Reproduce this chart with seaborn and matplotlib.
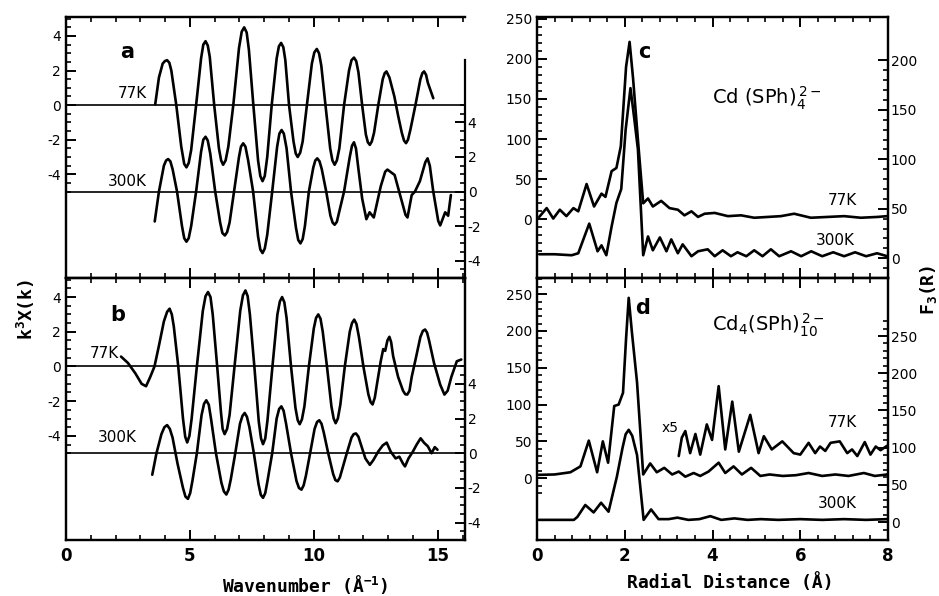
import numpy as np
import matplotlib
matplotlib.use("Agg")
import matplotlib.pyplot as plt
import seaborn as sns
from matplotlib.ticker import FixedLocator, NullFormatter

# ---- panel a : Cd(SPh)4 EXAFS (77K left axis, 300K right axis) ----
a77_k = [3.60, 3.75, 3.90, 3.99, 4.08, 4.17, 4.25, 4.45, 4.65, 4.77, 4.86, 4.95, 5.05, 5.25,
         5.45, 5.54, 5.63, 5.72, 5.80, 5.98, 6.17, 6.26, 6.34, 6.44, 6.55, 6.75, 6.98, 7.09,
         7.19, 7.29, 7.38, 7.56, 7.75, 7.84, 7.93, 8.02, 8.12, 8.30, 8.50, 8.59, 8.68, 8.77,
         8.85, 9.00, 9.18, 9.27, 9.35, 9.45, 9.55, 9.72, 9.92, 10.02, 10.12, 10.21, 10.30,
         10.47, 10.66, 10.75, 10.84, 10.93, 11.03, 11.22, 11.42, 11.52, 11.62, 11.71, 11.80,
         11.95, 12.10, 12.18, 12.26, 12.34, 12.43, 12.60, 12.78, 12.86, 12.93, 13.05, 13.25,
         13.40, 13.55, 13.64, 13.72, 13.80, 13.90, 14.10, 14.30, 14.38, 14.45, 14.53, 14.60,
         14.82]
a77_chi = [0.05, 1.6, 2.4, 2.55, 2.6, 2.45, 2.0, 0.0, -2.4, -3.4, -3.6, -3.35, -2.6, 0.0,
           2.7, 3.5, 3.7, 3.45, 2.8, 0.0, -2.5, -3.2, -3.45, -3.2, -2.4, 0.0, 3.3, 4.25,
           4.5, 4.2, 3.2, 0.0, -3.2, -4.1, -4.4, -4.1, -3.0, 0.0, 2.7, 3.4, 3.6, 3.35,
           2.6, 0.0, -2.1, -2.8, -3.0, -2.75, -2.1, 0.0, 2.4, 3.05, 3.25, 3.0, 2.3,
           0.0, -2.5, -3.2, -3.45, -3.2, -2.5, 0.0, 2.0, 2.6, 2.75, 2.55, 1.9,
           0.0, -1.7, -2.15, -2.3, -2.1, -1.6, 0.0, 1.5, 1.85, 1.95, 1.6, 0.5,
           -0.6, -1.6, -2.05, -2.2, -2.0, -1.4, 0.0, 1.5, 1.85, 1.95, 1.75, 1.3,
           0.4]

a300_k = [3.58, 3.75, 3.95, 4.04, 4.12, 4.21, 4.30, 4.48, 4.68, 4.77, 4.86, 4.95, 5.05, 5.25,
          5.45, 5.54, 5.63, 5.72, 5.82, 6.02, 6.22, 6.31, 6.41, 6.50, 6.60, 6.78, 6.98, 7.06,
          7.15, 7.24, 7.35, 7.55, 7.75, 7.84, 7.93, 8.02, 8.12, 8.32, 8.52, 8.61, 8.70, 8.79,
          8.90, 9.08, 9.28, 9.37, 9.46, 9.55, 9.64, 9.80, 9.98, 10.06, 10.14, 10.23, 10.32,
          10.50, 10.67, 10.76, 10.84, 10.93, 11.02, 11.22, 11.45, 11.54, 11.62, 11.70, 11.80,
          11.95, 12.12, 12.25, 12.42, 12.70, 12.88, 12.97, 13.26, 13.50, 13.70, 13.78, 13.95,
          14.08, 14.28, 14.50, 14.59, 14.68, 14.82, 15.02, 15.10, 15.30, 15.42, 15.53]
a300_chi = [-1.73, 0.0, 1.5, 1.8, 1.88, 1.75, 1.3, 0.0, -2.0, -2.7, -2.9, -2.7, -2.0, 0.0,
            2.3, 3.0, 3.17, 2.95, 2.2, 0.0, -1.8, -2.4, -2.54, -2.35, -1.8, 0.0, 2.0, 2.6,
            2.79, 2.6, 1.8, 0.0, -2.6, -3.35, -3.56, -3.3, -2.5, 0.0, 2.6, 3.35, 3.56, 3.35,
            2.5, 0.0, -2.1, -2.8, -3.0, -2.75, -2.0, 0.0, 1.4, 1.8, 1.92, 1.75, 1.3,
            0.0, -1.4, -1.8, -1.92, -1.75, -1.2, 0.0, 2.0, 2.65, 2.85, 2.5, 1.3,
            -0.4, -1.6, -1.2, -1.5, 0.3, 1.15, 1.27, 0.96, -0.3, -1.35, -1.5, -0.2,
            0.0, 0.6, 1.7, 1.92, 1.5, 0.0, -1.7, -1.96, -1.2, -1.4, -0.2]

# ---- panel b : Cd4(SPh)10 EXAFS ----
b77_k = [2.22, 2.50, 2.80, 3.05, 3.23, 3.40, 3.57, 3.75, 3.95, 4.08, 4.18, 4.27, 4.35, 4.53,
         4.72, 4.81, 4.89, 4.98, 5.07, 5.28, 5.52, 5.63, 5.73, 5.83, 5.92, 6.10, 6.25, 6.32,
         6.40, 6.50, 6.60, 6.80, 7.03, 7.14, 7.24, 7.33, 7.42, 7.60, 7.78, 7.87, 7.95, 8.04,
         8.13, 8.33, 8.53, 8.63, 8.72, 8.81, 8.90, 9.08, 9.26, 9.35, 9.43, 9.52, 9.62, 9.80,
         10.00, 10.09, 10.18, 10.27, 10.36, 10.53, 10.71, 10.80, 10.88, 10.97, 11.07, 11.25,
         11.45, 11.54, 11.63, 11.72, 11.82, 12.00, 12.20, 12.29, 12.37, 12.46, 12.55, 12.70,
         12.80, 12.88, 12.97, 13.05, 13.12, 13.20, 13.40, 13.60, 13.69, 13.77, 13.86, 13.95,
         14.12, 14.30, 14.40, 14.49, 14.57, 14.65, 14.85, 15.10, 15.27, 15.40, 15.55, 15.77,
         15.95]
b77_chi = [0.57, 0.2, -0.4, -1.0, -1.14, -0.6, 0.0, 1.2, 2.6, 3.15, 3.33, 3.0, 2.3, 0.0,
           -3.0, -4.05, -4.38, -4.0, -3.0, 0.0, 3.2, 4.05, 4.29, 4.0, 3.0, 0.0, -2.6, -3.6,
           -3.9, -3.6, -2.8, 0.0, 3.2, 4.1, 4.38, 4.05, 3.0, 0.0, -3.2, -4.15, -4.48, -4.15,
           -3.1, 0.0, 3.0, 3.75, 4.0, 3.7, 2.8, 0.0, -2.4, -3.1, -3.33, -3.05, -2.3, 0.0,
           2.2, 2.8, 3.0, 2.75, 2.0, 0.0, -2.3, -3.0, -3.27, -3.0, -2.2, 0.0,
           2.0, 2.5, 2.7, 2.45, 1.7, 0.0, -1.6, -2.05, -2.19, -1.8, -1.0, 0.3,
           1.0, 0.9, 1.5, 1.71, 1.4, 0.6, -0.6, -1.4, -1.6, -1.62, -1.4, -0.6,
           0.5, 1.7, 2.05, 2.13, 1.95, 1.5, 0.2, -1.05, -1.62, -1.4, -0.6, 0.3,
           0.4]

b300_k = [3.48, 3.65, 3.85, 3.97, 4.08, 4.19, 4.30, 4.50, 4.72, 4.82, 4.92, 5.01, 5.10, 5.28,
          5.47, 5.57, 5.66, 5.76, 5.85, 6.05, 6.27, 6.37, 6.47, 6.56, 6.65, 6.83, 7.02, 7.12,
          7.21, 7.30, 7.40, 7.58, 7.77, 7.86, 7.95, 8.04, 8.13, 8.32, 8.50, 8.60, 8.69, 8.78,
          8.88, 9.08, 9.30, 9.40, 9.50, 9.59, 9.68, 9.85, 10.03, 10.13, 10.22, 10.31, 10.40,
          10.58, 10.78, 10.87, 10.96, 11.05, 11.15, 11.33, 11.52, 11.61, 11.70, 11.80, 11.90,
          12.08, 12.26, 12.40, 12.60, 12.78, 12.94, 13.10, 13.30, 13.45, 13.60, 13.68, 13.82,
          14.00, 14.15, 14.31, 14.45, 14.60, 14.75, 14.88, 14.99]
b300_chi = [-1.24, 0.0, 1.1, 1.5, 1.62, 1.4, 0.9, -0.6, -2.0, -2.5, -2.63, -2.3, -1.6, 0.0,
            2.2, 2.85, 3.05, 2.8, 2.0, 0.0, -1.7, -2.2, -2.38, -2.1, -1.5, 0.0, 1.7, 2.15,
            2.32, 2.1, 1.5, 0.0, -1.8, -2.4, -2.57, -2.3, -1.6, 0.0, 2.0, 2.55, 2.7, 2.45,
            1.7, 0.0, -1.6, -2.0, -2.1, -1.85, -1.3, 0.0, 1.4, 1.8, 1.9, 1.7, 1.2,
            0.0, -1.2, -1.55, -1.62, -1.4, -0.9, 0.0, 0.9, 1.1, 1.14, 0.95, 0.5,
            -0.3, -0.67, -0.4, 0.1, 0.45, 0.61, 0.1, -0.3, -0.2, -0.6, -0.76, -0.3,
            0.1, 0.5, 0.86, 0.6, 0.4, 0.0, 0.35, 0.2]

# ---- panel c : Fourier transforms, Cd(SPh)4 ----
c77_r = [0.05, 0.22, 0.37, 0.52, 0.67, 0.83, 0.94, 1.13, 1.30, 1.47, 1.56, 1.70, 1.81, 1.91,
         2.03, 2.11, 2.19, 2.30, 2.42, 2.53, 2.64, 2.83, 3.02, 3.21, 3.36, 3.52, 3.67, 3.82,
         4.05, 4.35, 4.65, 4.95, 5.26, 5.56, 5.86, 6.24, 6.62, 7.00, 7.38, 7.76, 7.98]
c77_f = [3, 14, 1, 12, 4, 14, 10, 44, 16, 32, 28, 60, 64, 91,
         190, 221, 175, 99, 20, 26, 16, 23, 14, 12, 5, 10, 3, 7,
         8, 4, 5, 2, 3, 4, 7, 2, 3, 4, 2, 3, 4]

c300_r = [0.05, 0.40, 0.79, 0.94, 1.19, 1.38, 1.47, 1.58, 1.70, 1.81, 1.92, 2.02, 2.13, 2.22,
          2.30, 2.42, 2.53, 2.64, 2.80, 2.95, 3.06, 3.21, 3.32, 3.52, 3.67, 3.89, 4.05, 4.23,
          4.42, 4.57, 4.77, 4.95, 5.14, 5.33, 5.52, 5.79, 6.02, 6.25, 6.50, 6.75, 7.00, 7.25,
          7.50, 7.75, 7.98]
c300_f = [4, 4, 3, 5, 35, 7, 13, 3, 32, 56, 70, 130, 172, 140,
          110, 3, 22, 8, 21, 7, 19, 5, 14, 2, 7, 9, 2, 8,
          2, 6, 2, 8, 2, 9, 2, 7, 2, 7, 2, 6, 2, 6,
          2, 5, 2]

# ---- panel d : Fourier transforms, Cd4(SPh)10 ----
d77_r = [0.04, 0.40, 0.76, 0.99, 1.18, 1.37, 1.50, 1.62, 1.76, 1.86, 1.96, 2.03, 2.09, 2.16,
         2.28, 2.42, 2.58, 2.73, 2.90, 3.08, 3.23, 3.38, 3.57, 3.72, 3.91, 4.14, 4.29, 4.48,
         4.67, 4.88, 5.09, 5.30, 5.60, 5.90, 6.19, 6.50, 6.80, 7.10, 7.45, 7.70, 7.98]
d77_f = [4.5, 5, 8, 16, 51, 8, 50, 21, 98, 100, 116, 190, 245, 200,
         130, 5, 20, 8, 14, 5, 9, 2, 7, 3, 9, 21, 7, 16,
         5, 14, 3, 5, 3, 4, 7, 3, 5, 3, 7, 3, 5]

d77x5_r = [3.23, 3.30, 3.38, 3.49, 3.61, 3.72, 3.87, 3.99, 4.14, 4.29, 4.45, 4.60, 4.86, 5.05,
           5.17, 5.35, 5.59, 5.85, 6.00, 6.19, 6.34, 6.45, 6.57, 6.69, 6.90, 7.07, 7.18, 7.30,
           7.47, 7.60, 7.72, 7.83, 7.98]
d77x5_f = [30, 55, 64, 34, 60, 32, 73, 52, 125, 39, 104, 36, 86, 34,
           57, 39, 50, 34, 32, 48, 34, 43, 37, 48, 50, 34, 39, 30,
           49, 32, 43, 38, 44]

d300_r = [0.04, 0.84, 0.92, 1.10, 1.29, 1.46, 1.63, 1.82, 1.95, 2.02, 2.09, 2.17, 2.28, 2.43,
          2.60, 2.77, 3.00, 3.20, 3.45, 3.70, 3.95, 4.20, 4.50, 4.80, 5.10, 5.50, 6.00, 6.50,
          7.00, 7.50, 7.98]
d300_f = [3, 3, 7, 23, 13, 26, 14, 61, 100, 118, 124, 116, 90, 3,
          17, 4, 4, 6, 3, 4, 8, 3, 5, 3, 4, 3, 4, 3,
          4, 3, 4]

sns.set_style("ticks")
plt.rcParams["font.family"] = ["DejaVu Sans"]
plt.rcParams["axes.unicode_minus"] = False
plt.rcParams["mathtext.default"] = "regular"
plt.rcParams["text.color"] = "black"
plt.rcParams["axes.labelcolor"] = "black"

fig = plt.figure(figsize=(9.39, 5.96), dpi=100)
ax_a = fig.add_axes([0.0703, 0.5336, 0.4249, 0.4379])
ax_b = fig.add_axes([0.0703, 0.0940, 0.4249, 0.4396])
ax_c = fig.add_axes([0.5719, 0.5336, 0.3738, 0.4379])
ax_d = fig.add_axes([0.5719, 0.0940, 0.3738, 0.4396])

line_kw = dict(color="black", lw=1.9, sort=False, estimator=None,
               solid_joinstyle="round", solid_capstyle="round")
tick_kw = dict(direction="in", colors="black", labelsize=10)


def style(ax, tw):
    for s in list(ax.spines.values()) + list(tw.spines.values()):
        s.set_linewidth(1.6)
        s.set_color("black")
    ax.tick_params(which="both", top=True, bottom=True, right=False, **tick_kw)
    ax.tick_params(which="major", length=7, width=1.4)
    ax.tick_params(which="minor", length=3.5, width=1.2)
    tw.tick_params(which="both", right=True, left=False, **tick_kw)
    tw.tick_params(which="major", length=7, width=1.4, pad=2)
    tw.tick_params(which="minor", length=3.5, width=1.2)
    ax.set_xlabel("")
    ax.set_ylabel("")
    tw.set_ylabel("")


# ---- EXAFS panels ----
exafs = [(ax_a, a77_k, a77_chi, a300_k, a300_chi, "a", (2.46, 3.08), (3.25, 0.69), (3.25, -4.42)),
         (ax_b, b77_k, b77_chi, b300_k, b300_chi, "b", (2.10, 2.95), (2.15, 0.77), (2.85, -4.10))]
for ax, k1, y1, k2, y2, lab, lpos, p77, p300 in exafs:
    tw = ax.twinx()
    ax.axhline(0, color="black", lw=1.2)
    ax.axhline(-5, color="black", lw=1.2)
    sns.lineplot(x=k1, y=y1, ax=ax, **line_kw)
    sns.lineplot(x=k2, y=y2, ax=tw, **line_kw)
    ax.set_xlim(0, 16.1)
    ax.set_ylim(-10, 5.1)
    tw.set_ylim(-5, 10.1)
    ax.xaxis.set_major_locator(FixedLocator([0, 5, 10, 15]))
    ax.xaxis.set_minor_locator(FixedLocator(np.arange(0, 16.5, 1)))
    ax.yaxis.set_major_locator(FixedLocator([-4, -2, 0, 2, 4]))
    ax.yaxis.set_minor_locator(FixedLocator(np.arange(-5, 5.01, 0.5)))
    tw.yaxis.set_major_locator(FixedLocator([-4, -2, 0, 2, 4]))
    tw.yaxis.set_minor_locator(FixedLocator(np.arange(-5, 5.01, 0.5)))
    style(ax, tw)
    ax.text(*lpos, lab, fontsize=15, fontweight="bold", ha="center", va="center")
    ax.text(*p77, "77K", fontsize=11, ha="right", va="center")
    ax.text(*p300, "300K", fontsize=11, ha="right", va="center")
    if ax is ax_a:
        ax.spines["right"].set_visible(False)
        tw.spines["right"].set_bounds(-5, 7.6)
        ax.xaxis.set_major_formatter(NullFormatter())
    else:
        ax.set_xticklabels(["0", "5", "10", "15"])

# ---- Fourier transform panels ----
ft = [(ax_c, c77_r, c77_f, c300_r, c300_f, "c", (2.44, 209), (-73, 252), (-20, 244),
       [0, 50, 100, 150, 200], np.arange(-10, 201, 10), np.arange(-40, 251, 10),
       r"Cd (SPh)$_4^{\,2-}$", (3.98, 151), (7.29, 24), (7.25, -26)),
      (ax_d, d77_r, d77_f, d300_r, d300_f, "d", (2.41, 231), (-84, 272), (-24, 328),
       [0, 50, 100, 150, 200, 250], np.arange(-10, 271, 10), np.arange(-20, 271, 10),
       r"Cd$_4$(SPh)$_{10}^{\,2-}$", (3.98, 208), (7.29, 75), (7.30, -34))]
for (ax, r1, f1, r2, f2, lab, lpos, ylim, tylim, tmaj, tmin, lmin,
     title, tpos, p77, p300) in ft:
    tw = ax.twinx()
    sns.lineplot(x=r1, y=f1, ax=ax, **line_kw)
    sns.lineplot(x=r2, y=f2, ax=tw, **line_kw)
    ax.set_xlim(0, 8)
    ax.set_ylim(*ylim)
    tw.set_ylim(*tylim)
    ax.xaxis.set_major_locator(FixedLocator([0, 2, 4, 6, 8]))
    ax.xaxis.set_minor_locator(FixedLocator(np.arange(0, 8.01, 0.4)))
    ax.yaxis.set_major_locator(FixedLocator([0, 50, 100, 150, 200, 250]))
    ax.yaxis.set_minor_locator(FixedLocator(lmin))
    tw.yaxis.set_major_locator(FixedLocator(tmaj))
    tw.yaxis.set_minor_locator(FixedLocator(tmin))
    style(ax, tw)
    ax.text(*lpos, lab, fontsize=15, fontweight="bold", ha="center", va="center")
    ax.text(*tpos, title, fontsize=14, ha="left", va="center")
    ax.text(*p77, "77K", fontsize=11, ha="right", va="center")
    ax.text(*p300, "300K", fontsize=11, ha="right", va="center")
    if ax is ax_c:
        ax.xaxis.set_major_formatter(NullFormatter())
    else:
        ax.set_xticklabels(["0", "2", "4", "6", "8"])
        sns.lineplot(x=d77x5_r, y=d77x5_f, ax=ax, **line_kw)
        ax.text(3.03, 68, "x5", fontsize=10, ha="center", va="center")

for ax in (ax_b, ax_d):
    ax.tick_params(axis="x", labelsize=12, pad=5)
    for t in ax.get_xticklabels():
        t.set_fontweight("bold")

lab_kw = dict(fontfamily="DejaVu Sans Mono", fontweight="bold", fontsize=13)
fig.text(0.0277, 0.4815, "k$^3$X(k)", rotation=90, ha="center", va="center", **lab_kw)
fig.text(0.9883, 0.5134, "F$_3$(R)", rotation=90, ha="center", va="center", **lab_kw)
fig.text(0.3248, 0.0185, "Wavenumber (Å$^{-1}$)", ha="center", va="center", **lab_kw)
fig.text(0.7774, 0.0218, "Radial Distance (Å)", ha="center", va="center", **lab_kw)

fig.savefig("out.png", dpi=100)
